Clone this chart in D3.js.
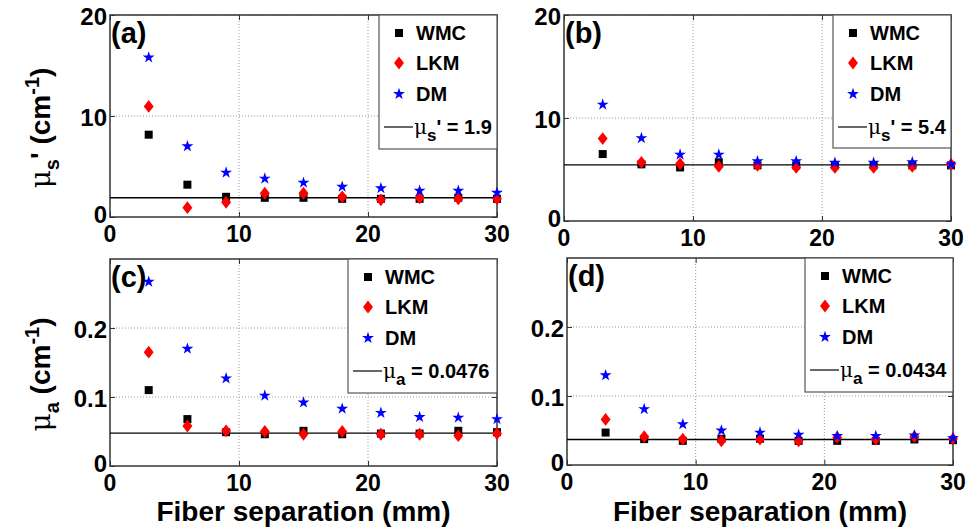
<!DOCTYPE html>
<html>
<head>
<meta charset="utf-8">
<script src="https://cdn.jsdelivr.net/npm/d3@7"></script>
<style>
body { margin: 0; background: #fff; }
text { font-family: "Liberation Sans", Arial, sans-serif; font-weight: bold; fill: #000; }
.grid line { stroke: #9a9a9a; stroke-width: 1; stroke-dasharray: 1,2; }
</style>
</head>
<body>
<svg id="chart" width="969" height="527"></svg>
<script>
// fiber separation (mm)
var separation = [3, 6, 9, 12, 15, 18, 21, 24, 27, 30];
var xTicks = [0, 10, 20, 30];
var musTicks = [0, 10, 20];
var muaTicks = [0, 0.1, 0.2];

// (a) mus', phantom 1
var wmcA = [8.15, 3.2, 2.0, 1.9, 1.9, 1.8, 1.8, 1.8, 1.9, 1.8];
var lkmA = [10.95, 0.92, 1.45, 2.35, 2.35, 2.0, 1.7, 1.9, 1.8, 1.8];
var dmA  = [15.8, 7.0, 4.4, 3.8, 3.4, 3.0, 2.85, 2.6, 2.6, 2.4];
var refA = 1.9, refTextA = "1.9";

// (b) mus', phantom 2
var wmcB = [6.5, 5.5, 5.2, 5.7, 5.4, 5.4, 5.4, 5.4, 5.4, 5.4];
var lkmB = [8.0, 5.7, 5.55, 5.3, 5.4, 5.2, 5.2, 5.2, 5.3, 5.5];
var dmB  = [11.3, 8.05, 6.45, 6.45, 5.8, 5.8, 5.65, 5.65, 5.7, 5.5];
var refB = 5.45, refTextB = "5.4";

// (c) mua, phantom 1
var wmcC = [0.110, 0.068, 0.049, 0.046, 0.051, 0.046, 0.047, 0.047, 0.051, 0.049];
var lkmC = [0.165, 0.058, 0.051, 0.050, 0.046, 0.050, 0.046, 0.046, 0.044, 0.047];
var dmC  = [0.267, 0.170, 0.127, 0.102, 0.092, 0.083, 0.077, 0.071, 0.070, 0.068];
var refC = 0.0476, refTextC = "0.0476";

// (d) mua, phantom 2
var wmcD = [0.047, 0.0375, 0.035, 0.038, 0.038, 0.035, 0.035, 0.035, 0.037, 0.036];
var lkmD = [0.066, 0.041, 0.0375, 0.035, 0.0375, 0.035, 0.040, 0.0375, 0.041, 0.038];
var dmD  = [0.130, 0.081, 0.059, 0.050, 0.047, 0.044, 0.042, 0.042, 0.043, 0.039];
var refD = 0.037, refTextD = "0.0434";

var panels = [
  {tag: "(a)", box: [110, 497, 15, 217], ymax: 20, ticks: musTicks, wmc: wmcA, lkm: lkmA, dm: dmA,
   ref: refA, refText: refTextA, sub: "s", prime: true, leg: [379, 15, 118, 134], ylab: true, xlab: false},
  {tag: "(b)", box: [564, 951, 15, 221], ymax: 20, ticks: musTicks, wmc: wmcB, lkm: lkmB, dm: dmB,
   ref: refB, refText: refTextB, sub: "s", prime: true, leg: [833, 15, 118, 133], ylab: false, xlab: false},
  {tag: "(c)", box: [110, 497, 259, 466], ymax: 0.3, ticks: muaTicks, wmc: wmcC, lkm: lkmC, dm: dmC,
   ref: refC, refText: refTextC, sub: "a", prime: false, leg: [348, 259, 149, 134], ylab: true, xlab: true},
  {tag: "(d)", box: [567, 953, 258, 465], ymax: 0.3, ticks: muaTicks, wmc: wmcD, lkm: lkmD, dm: dmD,
   ref: refD, refText: refTextD, sub: "a", prime: false, leg: [805, 258, 148, 134], ylab: false, xlab: true}
];

var diamond = {
  draw: function(ctx, size) {
    var s = Math.sqrt(size), w = s * 0.62, h = s * 0.8;
    ctx.moveTo(0, -h); ctx.lineTo(w, 0); ctx.lineTo(0, h); ctx.lineTo(-w, 0); ctx.closePath();
  }
};
var series = [
  {key: "wmc", name: "WMC", sym: d3.symbol(d3.symbolSquare, 64), color: "#000"},
  {key: "lkm", name: "LKM", sym: d3.symbol(diamond, 64), color: "#ff0000"},
  {key: "dm",  name: "DM",  sym: d3.symbol(d3.symbolStar, 44), color: "#0000ff"}
];

var svg = d3.select("#chart");

function clean(sel) {
  sel.select(".domain").remove();
  sel.selectAll(".tick line").attr("stroke", "#333");
}

panels.forEach(function(p) {
  var x = d3.scaleLinear().domain([0, 30]).range([p.box[0], p.box[1]]);
  var y = d3.scaleLinear().domain([0, p.ymax]).range([p.box[3], p.box[2]]);
  var g = svg.append("g");

  // dotted grid
  var grid = g.append("g").attr("class", "grid");
  grid.selectAll(".gx").data(xTicks.slice(1, -1)).enter().append("line")
      .attr("x1", x).attr("x2", x).attr("y1", p.box[2]).attr("y2", p.box[3]);
  grid.selectAll(".gy").data(p.ticks.slice(1)).enter().append("line")
      .attr("y1", y).attr("y2", y).attr("x1", p.box[0]).attr("x2", p.box[1]);

  // inward ticks on all four sides
  var tl = 5;
  g.append("g").attr("transform", "translate(0," + p.box[3] + ")")
    .call(d3.axisTop(x).tickValues(xTicks).tickSize(tl).tickFormat("")).call(clean);
  g.append("g").attr("transform", "translate(0," + p.box[2] + ")")
    .call(d3.axisBottom(x).tickValues(xTicks).tickSize(tl).tickFormat("")).call(clean);
  g.append("g").attr("transform", "translate(" + p.box[0] + ",0)")
    .call(d3.axisRight(y).tickValues(p.ticks).tickSize(tl).tickFormat("")).call(clean);
  g.append("g").attr("transform", "translate(" + p.box[1] + ",0)")
    .call(d3.axisLeft(y).tickValues(p.ticks).tickSize(tl).tickFormat("")).call(clean);

  // tick labels
  g.selectAll(".xl").data(xTicks).enter().append("text")
    .attr("x", x).attr("y", p.box[3] + 25).attr("text-anchor", "middle")
    .style("font-size", "23px").text(function(d) { return d; });
  g.selectAll(".yl").data(p.ticks).enter().append("text")
    .attr("x", p.box[0] - 3).attr("y", function(d) { return y(d) + (d === 0 ? 6 : 10); })
    .attr("text-anchor", "end")
    .style("font-size", "24px").text(function(d) { return d; });

  // frame
  g.append("rect").attr("x", p.box[0]).attr("y", p.box[2])
    .attr("width", p.box[1] - p.box[0]).attr("height", p.box[3] - p.box[2])
    .attr("fill", "none").attr("stroke", "#333").attr("stroke-width", 1.5);

  // reference value line
  g.append("line").attr("x1", p.box[0]).attr("x2", p.box[1])
    .attr("y1", y(p.ref)).attr("y2", y(p.ref)).attr("stroke", "#000").attr("stroke-width", 1.4);

  // markers
  series.forEach(function(s) {
    g.selectAll(".m-" + s.key).data(p[s.key]).enter().append("path")
      .attr("d", s.sym)
      .attr("fill", s.color)
      .attr("transform", function(d, i) { return "translate(" + x(separation[i]) + "," + y(d) + ")"; });
  });

  // panel tag
  g.append("text").attr("x", p.box[0] + 1).attr("y", p.box[2] + 28)
    .style("font-size", "29px").text(p.tag);

  // legend
  var L = p.leg;
  var lg = g.append("g").attr("transform", "translate(" + L[0] + "," + L[1] + ")");
  lg.append("rect").attr("width", L[2]).attr("height", L[3])
    .attr("fill", "#fff").attr("stroke", "#555").attr("stroke-width", 1.2);
  var rows = [18, 48, 79, 112];
  series.forEach(function(s, i) {
    lg.append("path").attr("d", s.sym).attr("fill", s.color)
      .attr("transform", "translate(20," + rows[i] + ")");
    lg.append("text").attr("x", 37).attr("y", rows[i] + 7).style("font-size", "20px").text(s.name);
  });
  lg.append("line").attr("x1", 5).attr("x2", 34).attr("y1", rows[3]).attr("y2", rows[3])
    .attr("stroke", "#000").attr("stroke-width", 1.2);
  var lt = lg.append("text").attr("x", 35).attr("y", rows[3] + 7).style("font-size", "20px");
  lt.append("tspan").style("font-weight", "normal").style("font-family", "DejaVu Serif, serif").text("\u03bc");
  lt.append("tspan").attr("dy", 7).style("font-size", "17px").text(p.sub);
  lt.append("tspan").attr("dy", -7).text((p.prime ? "'" : "") + " = " + p.refText);

  // axis labels
  if (p.ylab) {
    var yt = g.append("text").attr("text-anchor", "middle").style("font-size", "28px")
      .attr("transform", "translate(50," + ((p.box[2] + p.box[3]) / 2 + 12) + ") rotate(-90)");
    yt.append("tspan").style("font-weight", "normal").style("font-family", "DejaVu Serif, serif").text("\u03bc");
    yt.append("tspan").attr("dy", 9).style("font-size", "20px").text(p.sub);
    yt.append("tspan").attr("dy", -9).text(p.prime ? "' (cm" : " (cm");
    yt.append("tspan").attr("dy", -11).style("font-size", "20px").text("-1");
    yt.append("tspan").attr("dy", 11).text(")");
  }
  if (p.xlab) {
    g.append("text").attr("x", (p.box[0] + p.box[1]) / 2).attr("y", 521)
      .attr("text-anchor", "middle").style("font-size", "28px").text("Fiber separation (mm)");
  }
});
</script>
</body>
</html>
